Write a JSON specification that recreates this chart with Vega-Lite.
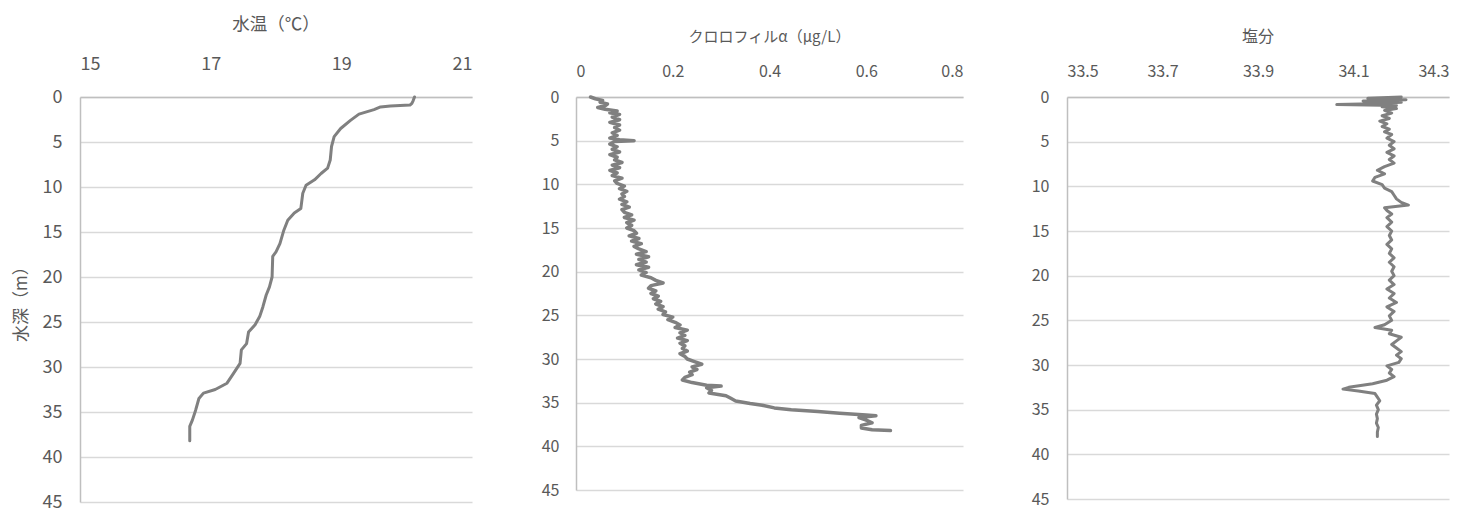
{
  "$schema": "https://vega.github.io/schema/vega-lite/v6.json",
  "padding": {"left": 12, "top": 15, "right": 5, "bottom": 0},
  "background": "white",
  "config": {
    "font": "Noto Sans CJK JP",
    "view": {"stroke": null},
    "axis": {
      "labelColor": "#595959",
      "titleColor": "#595959",
      "domainColor": "#bfbfbf",
      "domainWidth": 1.5,
      "gridColor": "#d9d9d9",
      "gridWidth": 1.5,
      "ticks": false,
      "labelFont": "Noto Sans CJK JP",
      "titleFont": "Noto Sans CJK JP",
      "titleFontWeight": "normal"
    },
    "title": {"color": "#595959", "fontWeight": "normal", "font": "Noto Sans CJK JP"}
  },
  "datasets": {
    "temp": [
      {"d": 0.0, "v": 20.12}, {"d": 0.4, "v": 20.1}, {"d": 0.7, "v": 20.08}, {"d": 0.9, "v": 20.05},
      {"d": 1.0, "v": 19.75}, {"d": 1.1, "v": 19.6}, {"d": 1.4, "v": 19.5}, {"d": 1.9, "v": 19.27},
      {"d": 2.6, "v": 19.14}, {"d": 3.5, "v": 18.99}, {"d": 4.4, "v": 18.89}, {"d": 5.5, "v": 18.85},
      {"d": 7.0, "v": 18.83}, {"d": 7.9, "v": 18.79}, {"d": 8.5, "v": 18.69}, {"d": 9.2, "v": 18.59},
      {"d": 9.8, "v": 18.46}, {"d": 10.7, "v": 18.41}, {"d": 12.4, "v": 18.38}, {"d": 12.9, "v": 18.28},
      {"d": 13.7, "v": 18.18}, {"d": 14.8, "v": 18.12}, {"d": 16.3, "v": 18.06}, {"d": 17.2, "v": 18.0},
      {"d": 17.7, "v": 17.95}, {"d": 20.0, "v": 17.94}, {"d": 21.1, "v": 17.9}, {"d": 22.0, "v": 17.85},
      {"d": 23.3, "v": 17.8}, {"d": 24.4, "v": 17.75}, {"d": 25.3, "v": 17.68}, {"d": 26.1, "v": 17.58},
      {"d": 27.4, "v": 17.55}, {"d": 28.1, "v": 17.47}, {"d": 29.6, "v": 17.45}, {"d": 30.7, "v": 17.35},
      {"d": 31.8, "v": 17.25}, {"d": 32.5, "v": 17.07}, {"d": 32.9, "v": 16.89}, {"d": 33.5, "v": 16.82},
      {"d": 34.8, "v": 16.77}, {"d": 35.9, "v": 16.72}, {"d": 36.6, "v": 16.68}, {"d": 38.2, "v": 16.68}
    ],
    "chl": [
      {"d": 0.0, "v": 0.03}, {"d": 0.2, "v": 0.04}, {"d": 0.4, "v": 0.055}, {"d": 0.6, "v": 0.05},
      {"d": 0.8, "v": 0.065}, {"d": 1.0, "v": 0.06}, {"d": 1.2, "v": 0.045}, {"d": 1.4, "v": 0.06},
      {"d": 1.6, "v": 0.085}, {"d": 1.8, "v": 0.07}, {"d": 2.0, "v": 0.09}, {"d": 2.3, "v": 0.075},
      {"d": 2.6, "v": 0.09}, {"d": 2.9, "v": 0.07}, {"d": 3.2, "v": 0.09}, {"d": 3.5, "v": 0.08},
      {"d": 3.8, "v": 0.09}, {"d": 4.1, "v": 0.075}, {"d": 4.4, "v": 0.085}, {"d": 4.7, "v": 0.07},
      {"d": 4.9, "v": 0.09}, {"d": 5.0, "v": 0.12}, {"d": 5.1, "v": 0.08}, {"d": 5.4, "v": 0.07},
      {"d": 5.7, "v": 0.085}, {"d": 6.0, "v": 0.075}, {"d": 6.3, "v": 0.09}, {"d": 6.6, "v": 0.07},
      {"d": 6.9, "v": 0.085}, {"d": 7.2, "v": 0.08}, {"d": 7.5, "v": 0.095}, {"d": 7.8, "v": 0.075},
      {"d": 8.1, "v": 0.09}, {"d": 8.4, "v": 0.07}, {"d": 8.7, "v": 0.085}, {"d": 9.0, "v": 0.075},
      {"d": 9.3, "v": 0.095}, {"d": 9.6, "v": 0.08}, {"d": 9.9, "v": 0.085}, {"d": 10.2, "v": 0.1},
      {"d": 10.5, "v": 0.09}, {"d": 10.8, "v": 0.105}, {"d": 11.1, "v": 0.095}, {"d": 11.4, "v": 0.1},
      {"d": 11.7, "v": 0.09}, {"d": 12.0, "v": 0.105}, {"d": 12.3, "v": 0.095}, {"d": 12.6, "v": 0.11},
      {"d": 12.9, "v": 0.095}, {"d": 13.2, "v": 0.1}, {"d": 13.5, "v": 0.115}, {"d": 13.8, "v": 0.1},
      {"d": 14.1, "v": 0.12}, {"d": 14.4, "v": 0.105}, {"d": 14.7, "v": 0.115}, {"d": 15.0, "v": 0.105},
      {"d": 15.3, "v": 0.12}, {"d": 15.6, "v": 0.125}, {"d": 15.9, "v": 0.11}, {"d": 16.2, "v": 0.13},
      {"d": 16.5, "v": 0.115}, {"d": 16.8, "v": 0.135}, {"d": 17.1, "v": 0.12}, {"d": 17.4, "v": 0.13},
      {"d": 17.7, "v": 0.145}, {"d": 18.0, "v": 0.125}, {"d": 18.3, "v": 0.15}, {"d": 18.6, "v": 0.13},
      {"d": 18.9, "v": 0.145}, {"d": 19.2, "v": 0.125}, {"d": 19.5, "v": 0.15}, {"d": 19.8, "v": 0.13},
      {"d": 20.1, "v": 0.145}, {"d": 20.4, "v": 0.135}, {"d": 20.7, "v": 0.155}, {"d": 21.0, "v": 0.165},
      {"d": 21.3, "v": 0.18}, {"d": 21.6, "v": 0.155}, {"d": 21.9, "v": 0.15}, {"d": 22.2, "v": 0.165},
      {"d": 22.5, "v": 0.155}, {"d": 22.8, "v": 0.17}, {"d": 23.1, "v": 0.16}, {"d": 23.4, "v": 0.175},
      {"d": 23.7, "v": 0.165}, {"d": 24.0, "v": 0.18}, {"d": 24.3, "v": 0.17}, {"d": 24.6, "v": 0.185},
      {"d": 24.9, "v": 0.18}, {"d": 25.2, "v": 0.2}, {"d": 25.5, "v": 0.19}, {"d": 25.8, "v": 0.205},
      {"d": 26.1, "v": 0.215}, {"d": 26.4, "v": 0.205}, {"d": 26.7, "v": 0.23}, {"d": 27.0, "v": 0.215},
      {"d": 27.3, "v": 0.225}, {"d": 27.6, "v": 0.21}, {"d": 27.9, "v": 0.23}, {"d": 28.2, "v": 0.215},
      {"d": 28.5, "v": 0.225}, {"d": 28.8, "v": 0.22}, {"d": 29.1, "v": 0.23}, {"d": 29.4, "v": 0.215},
      {"d": 29.7, "v": 0.225}, {"d": 30.0, "v": 0.23}, {"d": 30.3, "v": 0.245}, {"d": 30.6, "v": 0.26},
      {"d": 30.9, "v": 0.24}, {"d": 31.2, "v": 0.25}, {"d": 31.5, "v": 0.235}, {"d": 31.8, "v": 0.24},
      {"d": 32.1, "v": 0.225}, {"d": 32.4, "v": 0.22}, {"d": 32.7, "v": 0.24}, {"d": 33.0, "v": 0.27},
      {"d": 33.1, "v": 0.3}, {"d": 33.3, "v": 0.27}, {"d": 33.6, "v": 0.28}, {"d": 33.9, "v": 0.275},
      {"d": 34.2, "v": 0.31}, {"d": 34.5, "v": 0.32}, {"d": 34.8, "v": 0.33}, {"d": 35.1, "v": 0.36},
      {"d": 35.3, "v": 0.385}, {"d": 35.6, "v": 0.41}, {"d": 35.8, "v": 0.445}, {"d": 36.0, "v": 0.5},
      {"d": 36.2, "v": 0.545}, {"d": 36.4, "v": 0.6}, {"d": 36.5, "v": 0.62}, {"d": 36.7, "v": 0.585},
      {"d": 37.0, "v": 0.6}, {"d": 37.3, "v": 0.612}, {"d": 37.6, "v": 0.59}, {"d": 37.9, "v": 0.59},
      {"d": 38.1, "v": 0.612}, {"d": 38.2, "v": 0.65}
    ],
    "sal": [
      {"d": 0.0, "v": 34.2}, {"d": 0.15, "v": 34.13}, {"d": 0.3, "v": 34.21}, {"d": 0.45, "v": 34.12},
      {"d": 0.6, "v": 34.2}, {"d": 0.75, "v": 34.14}, {"d": 0.85, "v": 34.065}, {"d": 0.95, "v": 34.19},
      {"d": 1.1, "v": 34.16}, {"d": 1.3, "v": 34.19}, {"d": 1.5, "v": 34.165}, {"d": 1.8, "v": 34.18},
      {"d": 2.1, "v": 34.16}, {"d": 2.4, "v": 34.175}, {"d": 2.7, "v": 34.155}, {"d": 3.0, "v": 34.17},
      {"d": 3.3, "v": 34.16}, {"d": 3.6, "v": 34.175}, {"d": 3.9, "v": 34.165}, {"d": 4.2, "v": 34.18},
      {"d": 4.6, "v": 34.17}, {"d": 5.0, "v": 34.185}, {"d": 5.4, "v": 34.175}, {"d": 5.8, "v": 34.185},
      {"d": 6.2, "v": 34.17}, {"d": 6.6, "v": 34.185}, {"d": 7.0, "v": 34.175}, {"d": 7.4, "v": 34.185},
      {"d": 7.8, "v": 34.165}, {"d": 8.2, "v": 34.15}, {"d": 8.6, "v": 34.165}, {"d": 9.0, "v": 34.145},
      {"d": 9.4, "v": 34.14}, {"d": 9.8, "v": 34.16}, {"d": 10.2, "v": 34.165}, {"d": 10.6, "v": 34.18},
      {"d": 11.0, "v": 34.185}, {"d": 11.4, "v": 34.19}, {"d": 11.8, "v": 34.2}, {"d": 12.1, "v": 34.215},
      {"d": 12.4, "v": 34.165}, {"d": 12.7, "v": 34.17}, {"d": 13.1, "v": 34.18}, {"d": 13.5, "v": 34.17},
      {"d": 14.0, "v": 34.18}, {"d": 14.5, "v": 34.17}, {"d": 15.0, "v": 34.18}, {"d": 15.5, "v": 34.175},
      {"d": 16.0, "v": 34.18}, {"d": 16.5, "v": 34.17}, {"d": 17.0, "v": 34.18}, {"d": 17.5, "v": 34.175},
      {"d": 18.0, "v": 34.185}, {"d": 18.5, "v": 34.175}, {"d": 19.0, "v": 34.185}, {"d": 19.5, "v": 34.18},
      {"d": 20.0, "v": 34.185}, {"d": 20.5, "v": 34.175}, {"d": 21.0, "v": 34.185}, {"d": 21.5, "v": 34.17},
      {"d": 22.0, "v": 34.185}, {"d": 22.5, "v": 34.175}, {"d": 23.0, "v": 34.19}, {"d": 23.5, "v": 34.17},
      {"d": 24.0, "v": 34.185}, {"d": 24.5, "v": 34.175}, {"d": 25.0, "v": 34.18}, {"d": 25.5, "v": 34.165},
      {"d": 25.8, "v": 34.145}, {"d": 26.1, "v": 34.18}, {"d": 26.5, "v": 34.175}, {"d": 26.9, "v": 34.2},
      {"d": 27.3, "v": 34.19}, {"d": 27.7, "v": 34.18}, {"d": 28.1, "v": 34.19}, {"d": 28.5, "v": 34.2},
      {"d": 28.9, "v": 34.19}, {"d": 29.3, "v": 34.2}, {"d": 29.7, "v": 34.195}, {"d": 30.1, "v": 34.17},
      {"d": 30.5, "v": 34.18}, {"d": 30.9, "v": 34.175}, {"d": 31.3, "v": 34.185}, {"d": 31.7, "v": 34.17},
      {"d": 32.1, "v": 34.14}, {"d": 32.5, "v": 34.09}, {"d": 32.7, "v": 34.078}, {"d": 32.9, "v": 34.11},
      {"d": 33.2, "v": 34.145}, {"d": 33.6, "v": 34.15}, {"d": 34.0, "v": 34.155}, {"d": 34.5, "v": 34.148},
      {"d": 35.0, "v": 34.152}, {"d": 35.5, "v": 34.148}, {"d": 36.0, "v": 34.15}, {"d": 36.5, "v": 34.148},
      {"d": 37.0, "v": 34.152}, {"d": 37.5, "v": 34.15}, {"d": 38.0, "v": 34.15}
    ]
  },
  "bounds": "flush",
  "spacing": 104,
  "hconcat": [
    {
      "title": {"text": "水温（℃）", "fontSize": 17.5, "offset": 22},
      "width": 392,
      "height": 405,
      "data": {"name": "temp"},
      "mark": {"type": "line", "color": "#808080", "strokeWidth": 3, "strokeCap": "round", "strokeJoin": "round"},
      "encoding": {
        "x": {"field": "v", "type": "quantitative", "scale": {"domain": [15, 21], "nice": false, "zero": false},
              "axis": {"orient": "top", "title": null, "values": [15, 17, 19, 21], "grid": false, "labelFontSize": 18, "labelPadding": 24}},
        "y": {"field": "d", "type": "quantitative", "scale": {"domain": [0, 45], "reverse": true, "nice": false},
              "axis": {"title": "水深（m）", "values": [0, 5, 10, 15, 20, 25, 30, 35, 40, 45], "labelFontSize": 18, "labelPadding": 18, "titleFontSize": 17, "titlePadding": 12}},
        "order": {"field": "d", "type": "quantitative"}
      }
    },
    {
      "title": {"text": "クロロフィルα（μg/L）", "fontSize": 15, "offset": 18},
      "width": 387,
      "height": 393,
      "data": {"name": "chl"},
      "mark": {"type": "line", "color": "#808080", "strokeWidth": 3.5, "strokeCap": "round", "strokeJoin": "round"},
      "encoding": {
        "x": {"field": "v", "type": "quantitative", "scale": {"domain": [0, 0.8], "nice": false},
              "axis": {"orient": "top", "title": null, "values": [0, 0.2, 0.4, 0.6, 0.8], "format": ".1~f", "grid": false, "labelFontSize": 16, "labelPadding": 18}},
        "y": {"field": "d", "type": "quantitative", "scale": {"domain": [0, 45], "reverse": true, "nice": false},
              "axis": {"title": null, "values": [0, 5, 10, 15, 20, 25, 30, 35, 40, 45], "labelFontSize": 16, "labelPadding": 17}},
        "order": {"field": "d", "type": "quantitative"}
      }
    },
    {
      "title": {"text": "塩分", "fontSize": 16, "offset": 18},
      "width": 382,
      "height": 402,
      "data": {"name": "sal"},
      "mark": {"type": "line", "color": "#808080", "strokeWidth": 3, "strokeCap": "round", "strokeJoin": "round"},
      "encoding": {
        "x": {"field": "v", "type": "quantitative", "scale": {"domain": [33.5, 34.3], "nice": false, "zero": false},
              "axis": {"orient": "top", "title": null, "values": [33.5, 33.7, 33.9, 34.1, 34.3], "format": ".1f", "grid": false, "labelFontSize": 16, "labelPadding": 18}},
        "y": {"field": "d", "type": "quantitative", "scale": {"domain": [0, 45], "reverse": true, "nice": false},
              "axis": {"title": null, "values": [0, 5, 10, 15, 20, 25, 30, 35, 40, 45], "labelFontSize": 16, "labelPadding": 18}},
        "order": {"field": "d", "type": "quantitative"}
      }
    }
  ]
}
